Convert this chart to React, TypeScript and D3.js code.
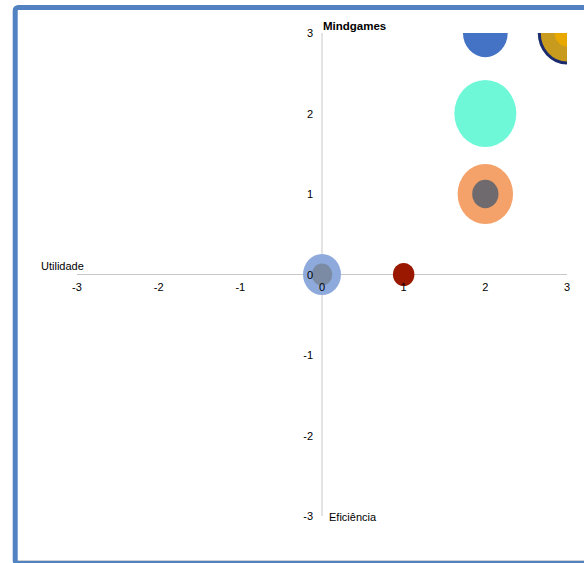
import React from "react";
import * as d3 from "d3";

const xTicks = [-3, -2, -1, 0, 1, 2, 3];
const yTicks = [3, 2, 1, 0, -1, -2, -3];

// bubbles drawn in order (outer first, then inner overlays)
const bubbleNames = ["aqua", "orange", "topBlue", "gold", "goldInner", "lightBlue", "orangeCore", "blueCore", "red"];
const bubbleX = [2, 2, 2, 3, 3, 0, 2, 0, 1];
const bubbleY = [2, 1, 3, 3, 3, 0, 1, 0, 0];
const bubbleSize = [10, 8, 5.2, 8, 1.6, 3.75, 1.8, 1.1, 1.2];
const bubbleFill = ["#6EF8D8", "#F4A269", "#4472C4", "#C89A1E", "#E8A800", "#8EA9DC", "#6E6A6E", "#7B8BA3", "#9A1800"];
const bubbleStroke = ["none", "none", "none", "#1B2C6E", "none", "none", "none", "none", "none"];

const xTitle = "Utilidade";
const yTitle = "Eficiência";
const chartTitle = "Mindgames";

export default function App() {
  const x = d3.scaleLinear().domain([-3, 3]).range([77, 567]);
  const y = d3.scaleLinear().domain([-3, 3]).range([516, 33]);
  const r = d3.scaleSqrt().domain([0, 10]).range([0, 31]);
  const font = "'Liberation Sans', Arial, sans-serif";

  return (
    <svg
      width={584}
      height={563}
      style={{ position: "absolute", left: 0, top: 0, background: "#fff" }}
      fontFamily={font}
    >
      <defs>
        <clipPath id="plotClip">
          <rect x={x(-3)} y={y(3)} width={x(3) - x(-3)} height={y(-3) - y(3)} />
        </clipPath>
      </defs>
      <line x1={17} x2={584} y1={560.5} y2={560.5} stroke="#d0d0d0" strokeWidth={1} />
      <rect x={15.2} y={7.5} width={620} height={556} rx={3} fill="none" stroke="#5282C2" strokeWidth={5} />

      {/* axes */}
      <line x1={x(-3)} x2={x(3)} y1={y(0)} y2={y(0)} stroke="#c8c8c8" strokeWidth={1} />
      <line x1={x(0)} x2={x(0)} y1={y(3)} y2={y(-3)} stroke="#c8c8c8" strokeWidth={1} />

      {/* bubbles */}
      <g clipPath="url(#plotClip)">
        {bubbleNames.map((n, i) => {
          const rr = r(bubbleSize[i]);
          return (
            <ellipse
              key={n}
              cx={x(bubbleX[i])}
              cy={y(bubbleY[i])}
              rx={rr}
              ry={rr * 1.08}
              fill={bubbleFill[i]}
              stroke={bubbleStroke[i]}
              strokeWidth={bubbleStroke[i] === "none" ? 0 : 3}
            />
          );
        })}
      </g>

      {/* tick labels */}
      {xTicks.map((t) => (
        <text key={"x" + t} x={x(t)} y={y(0) + 16.5} fontSize={11} textAnchor="middle" fill="#000">
          {t}
        </text>
      ))}
      {yTicks.map((t) => (
        <text key={"y" + t} x={x(0) - 9} y={y(t) + 4} fontSize={11} textAnchor="end" fill="#000">
          {t}
        </text>
      ))}

      <text x={41} y={270} fontSize={11} fill="#000">{xTitle}</text>
      <text x={329} y={521} fontSize={11} fill="#000">{yTitle}</text>
      <text x={323} y={29.5} fontSize={11.5} fontWeight="bold" fill="#000">{chartTitle}</text>
    </svg>
  );
}
